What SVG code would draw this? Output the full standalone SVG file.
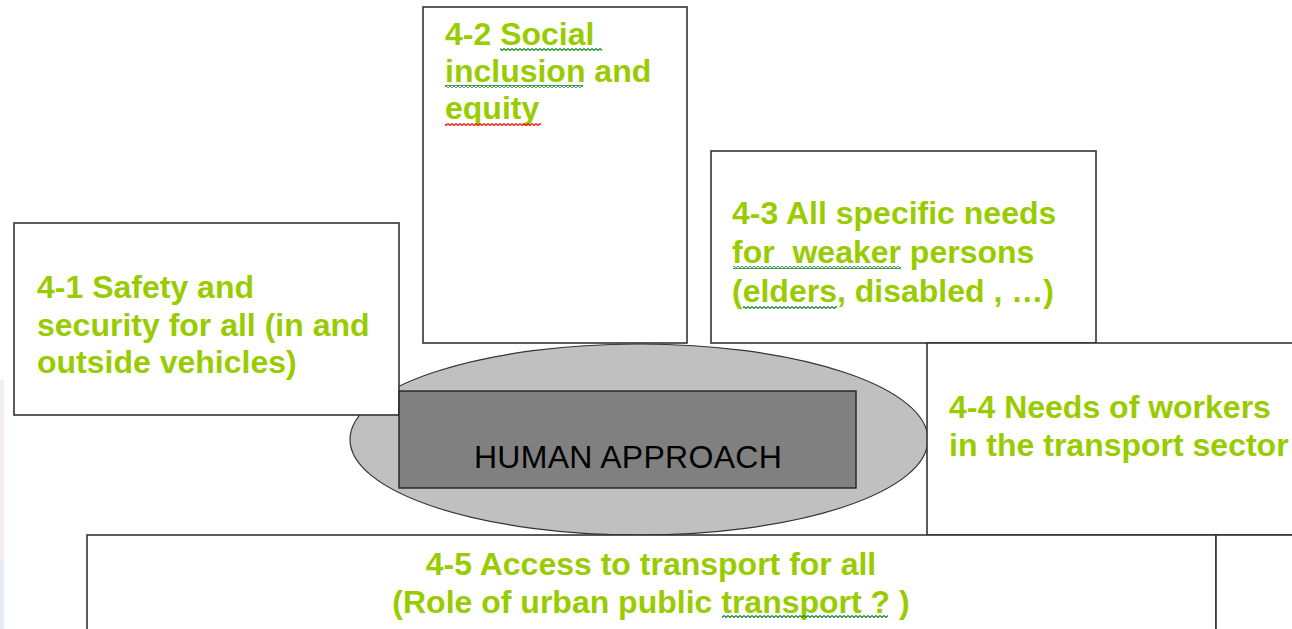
<svg xmlns="http://www.w3.org/2000/svg" width="1292" height="629" viewBox="0 0 1292 629">
<style>
.box{fill:#ffffff;stroke:#333333;stroke-width:1.6}
.lbl{font-family:"Liberation Sans",Arial,sans-serif;font-size:32px;font-weight:bold;fill:#99cc00}
.center{font-family:"Liberation Sans",Arial,sans-serif;font-size:32px;fill:#000000;letter-spacing:0.3px}
</style>
<defs>
<pattern id="zg" width="4" height="3" patternUnits="userSpaceOnUse">
<path d="M0,0.5 L2,2.5 L4,0.5" fill="none" stroke="#2a8a3a" stroke-width="1.3"/>
</pattern>
<pattern id="zr" width="4" height="3" patternUnits="userSpaceOnUse">
<path d="M0,0.5 L2,2.5 L4,0.5" fill="none" stroke="#ff1a1a" stroke-width="1.3"/>
</pattern>
</defs>
<rect x="0" y="0" width="1292" height="629" fill="#ffffff"/>
<rect x="0" y="380" width="4" height="180" fill="#f4eef2"/>
<rect x="0" y="560" width="4" height="69" fill="#e8eaf6"/>
<g id="connectors"></g>
<g id="node-human-ellipse">
<ellipse cx="639" cy="439.5" rx="289" ry="95.5" fill="#c0c0c0" stroke="#333333" stroke-width="1.2"/>
</g>
<g id="node-4-2">
<rect class="box" x="423" y="7" width="264" height="336"/>
<text class="lbl" x="445" y="45">4-2 Social</text>
<text class="lbl" x="445" y="82">inclusion and</text>
<text class="lbl" x="445" y="119">equity</text>
<rect x="500" y="48" width="102" height="3" fill="url(#zg)"/>
<rect x="445" y="85" width="138" height="3" fill="url(#zg)"/>
<rect x="445" y="123" width="96" height="3" fill="url(#zr)"/>
</g>
<g id="node-4-3">
<rect class="box" x="711" y="151" width="385" height="192"/>
<text class="lbl" x="732" y="224">4-3 All specific needs</text>
<text class="lbl" x="732" y="263" xml:space="preserve">for  weaker persons</text>
<text class="lbl" x="732" y="302">(elders, disabled , …)</text>
<rect x="733" y="266" width="168" height="3" fill="url(#zg)"/>
<rect x="743" y="306" width="94" height="3" fill="url(#zg)"/>
</g>
<g id="node-4-1">
<rect class="box" x="14" y="223" width="385" height="192"/>
<text class="lbl" x="37" y="298">4-1 Safety and</text>
<text class="lbl" x="37" y="336">security for all (in and</text>
<text class="lbl" x="37" y="373">outside vehicles)</text>
</g>
<g id="node-human">
<rect x="399" y="391" width="457" height="97" fill="#808080" stroke="#222222" stroke-width="1.4"/>
<text class="center" x="628" y="468" text-anchor="middle">HUMAN APPROACH</text>
</g>
<g id="node-4-4">
<rect class="box" x="927" y="343" width="380" height="192"/>
<text class="lbl" x="949" y="418">4-4 Needs of workers</text>
<text class="lbl" x="949" y="456">in the transport sector</text>
</g>
<g id="node-4-5">
<rect class="box" x="87" y="535" width="1129" height="110"/>
<text class="lbl" x="651" y="575" text-anchor="middle">4-5 Access to transport for all</text>
<text class="lbl" x="651" y="613" text-anchor="middle">(Role of urban public transport ? )</text>
<rect x="722" y="615" width="166" height="3" fill="url(#zg)"/>
</g>
<g id="node-right">
<rect class="box" x="1216" y="535" width="100" height="110"/>
</g>
</svg>
